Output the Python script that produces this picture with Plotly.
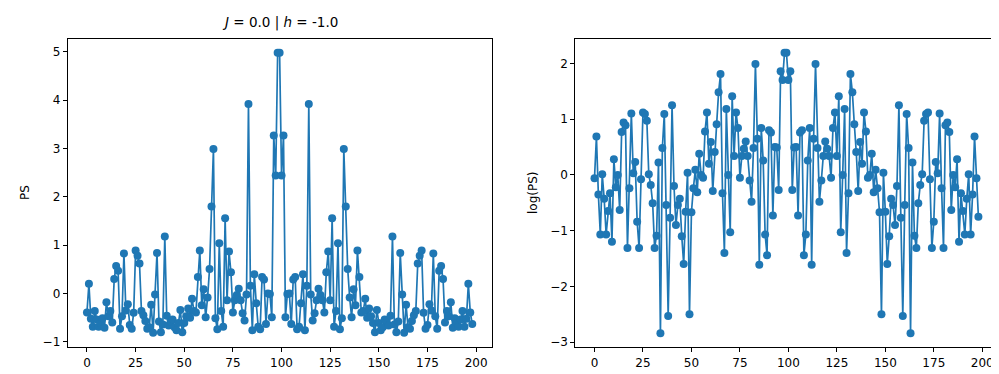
import plotly.graph_objects as go

W, H = 999, 374

index = list(range(199))

ps = [
    -0.39, 0.20, -0.52, -0.69, -0.36, -0.54, -0.69, -0.61, -0.51, -0.71,
    -0.18, -0.47, -0.36, -0.60, 0.30, 0.57, 0.47, -0.73, -0.47, 0.83,
    -0.35, -0.22, -0.65, -0.73, -0.40, 0.89, 0.78, 0.62, -0.36, -0.45,
    -0.57, -0.73, -0.70, -0.23, -0.81, -0.02, 0.84, -0.58, -0.80, -0.64,
    1.18, -0.46, -0.66, -0.58, -0.54, -0.70, -0.76, -0.61, -0.34, -0.80,
    -0.61, -0.47, -0.31, -0.50, -0.11, -0.36, -0.39, 0.34, 0.89, -0.24,
    0.09, -0.49, -0.08, 0.51, 1.80, 2.99, -0.51, -0.74, 1.04, -0.36,
    -0.69, 1.56, -0.14, 0.87, 0.44, -0.39, -0.14, -0.03, 0.10, -0.14,
    -0.41, -0.56, -0.02, 3.92, 0.16, -0.76, 0.40, -0.20, -0.69, -0.74,
    0.34, 0.29, -0.63, 0.00, -0.01, -0.49, 3.27, 2.44, 4.98, 4.98,
    2.44, 3.27, -0.49, -0.01, 0.00, -0.63, 0.29, 0.34, -0.74, -0.69,
    -0.20, 0.40, -0.76, 0.16, 3.92, -0.02, -0.56, -0.41, -0.14, 0.10,
    -0.03, -0.14, -0.39, 0.44, 0.87, -0.14, 1.56, -0.69, -0.36, 1.04,
    -0.74, -0.51, 2.99, 1.80, 0.51, -0.08, -0.49, 0.09, -0.24, 0.89,
    0.34, -0.39, -0.36, -0.11, -0.50, -0.31, -0.47, -0.61, -0.80, -0.34,
    -0.61, -0.76, -0.70, -0.54, -0.58, -0.66, -0.46, 1.18, -0.64, -0.80,
    -0.58, 0.84, -0.02, -0.81, -0.23, -0.70, -0.73, -0.57, -0.45, -0.36,
    0.62, 0.78, 0.89, -0.40, -0.73, -0.65, -0.22, -0.35, 0.83, -0.47,
    -0.73, 0.47, 0.57, 0.30, -0.60, -0.36, -0.47, -0.18, -0.71, -0.51,
    -0.61, -0.69, -0.54, -0.36, -0.69, -0.52, 0.20, -0.39, -0.63,
]

log_ps = [
    -0.06, 0.69, -0.35, -1.07, 0.01, -0.43, -1.07, -0.65, -0.33, -1.20,
    0.28, -0.22, 0.00, -0.63, 0.77, 0.94, 0.89, -1.31, -0.24, 1.10,
    0.03, 0.23, -0.84, -1.31, -0.08, 1.12, 1.09, 0.97, 0.01, -0.18,
    -0.51, -1.31, -1.09, 0.22, -2.84, 0.48, 1.09, -0.54, -2.53, -0.77,
    1.25, -0.20, -0.90, -0.54, -0.43, -1.10, -1.60, -0.66, 0.04, -2.50,
    -0.67, -0.24, 0.09, -0.31, 0.38, 0.00, -0.05, 0.78, 1.12, 0.20,
    0.59, -0.29, 0.41, 0.91, 1.48, 1.81, -0.33, -1.40, 1.18, 0.00,
    -1.03, 1.41, 0.34, 1.12, 0.84, -0.05, 0.34, 0.47, 0.60, 0.34,
    -0.10, -0.48, 0.48, 1.99, 0.65, -1.61, 0.84, 0.26, -1.07, -1.44,
    0.80, 0.76, -0.73, 0.50, 0.49, -0.27, 1.86, 1.70, 2.19, 2.19,
    1.70, 1.86, -0.27, 0.49, 0.50, -0.73, 0.76, 0.80, -1.44, -1.07,
    0.26, 0.84, -1.61, 0.65, 1.99, 0.48, -0.48, -0.10, 0.34, 0.60,
    0.47, 0.34, -0.05, 0.84, 1.12, 0.34, 1.41, -1.03, 0.00, 1.18,
    -1.40, -0.33, 1.81, 1.48, 0.91, 0.41, -0.29, 0.59, 0.20, 1.12,
    0.78, -0.05, 0.00, 0.38, -0.31, 0.09, -0.24, -0.67, -2.50, 0.04,
    -0.66, -1.60, -1.10, -0.43, -0.54, -0.90, -0.20, 1.25, -0.77, -2.53,
    -0.54, 1.09, 0.48, -2.84, 0.22, -1.09, -1.31, -0.51, -0.18, 0.01,
    0.97, 1.09, 1.12, -0.08, -1.31, -0.84, 0.23, 0.03, 1.10, -0.24,
    -1.31, 0.89, 0.94, 0.77, -0.63, 0.00, -0.22, 0.28, -1.20, -0.33,
    -0.65, -1.07, -0.43, 0.01, -1.07, -0.35, 0.69, -0.06, -0.75,
]

x_ticks = [0, 25, 50, 75, 100, 125, 150, 175, 200]
left_y_ticks = [-1, 0, 1, 2, 3, 4, 5]
right_y_ticks = [-3, -2, -1, 0, 1, 2]

title_text = "<i>J</i> = 0.0 | <i>h</i> = -1.0"
left_ylabel = "PS"
right_ylabel = "log(PS)"

BLUE = "#1f77b4"
FONT = "DejaVu Sans"

fig = go.Figure()
common = dict(mode="lines+markers", line=dict(color=BLUE, width=1.7),
              marker=dict(color=BLUE, size=8, line=dict(width=0)), showlegend=False)
fig.add_trace(go.Scatter(x=index, y=ps, xaxis="x", yaxis="y", **common))
fig.add_trace(go.Scatter(x=index, y=log_ps, xaxis="x2", yaxis="y2", **common))

def px_x(p):
    return p / W

def px_y(p):
    return 1 - p / H

top, bottom = 31, 341
ax_common = dict(showgrid=False, zeroline=False, showline=True, mirror=True,
                  linecolor="black", linewidth=1, ticks="outside", ticklen=4,
                  tickwidth=1, tickcolor="black",
                  tickfont=dict(family=FONT, size=12, color="black"))

layout = dict(
    width=W, height=H, margin=dict(l=0, r=0, t=0, b=0),
    paper_bgcolor="white", plot_bgcolor="white",
    font=dict(family=FONT, color="black"),
    xaxis=dict(domain=[px_x(59.7), px_x(483.5)], range=[-9.9, 207.9],
               tickvals=x_ticks, anchor="y", **ax_common),
    yaxis=dict(domain=[px_y(bottom), px_y(top)], range=[-1.11, 5.27],
               tickvals=left_y_ticks, anchor="x", **ax_common),
    xaxis2=dict(domain=[px_x(567.3), px_x(989.6)], range=[-9.9, 207.9],
                tickvals=x_ticks, anchor="y2", **ax_common),
    yaxis2=dict(domain=[px_y(bottom), px_y(top)], range=[-3.09, 2.44],
                tickvals=right_y_ticks, anchor="x2", **ax_common),
    annotations=[
        dict(text=title_text, x=px_x((59.7 + 483.5) / 2), y=px_y(15),
             xref="paper", yref="paper", showarrow=False,
             xanchor="center", yanchor="middle",
             font=dict(family=FONT, size=13.5, color="black")),
        dict(text=left_ylabel, x=px_x(17), y=px_y((top + bottom) / 2),
             xref="paper", yref="paper", showarrow=False, textangle=-90,
             xanchor="center", yanchor="middle",
             font=dict(family=FONT, size=12, color="black")),
        dict(text=right_ylabel, x=px_x(525), y=px_y((top + bottom) / 2),
             xref="paper", yref="paper", showarrow=False, textangle=-90,
             xanchor="center", yanchor="middle",
             font=dict(family=FONT, size=12, color="black")),
    ],
)
fig.update_layout(**layout)
fig.write_html("out.html")
